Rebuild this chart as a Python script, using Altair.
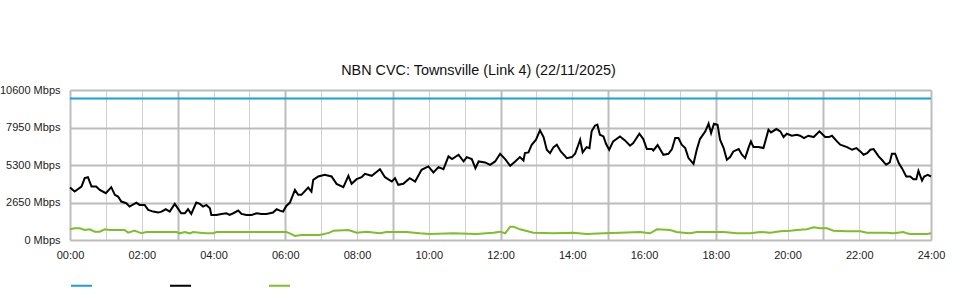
import altair as alt
import pandas as pd

TITLE = "NBN CVC: Townsville (Link 4) (22/11/2025)"
Y_TICKS = [0, 2650, 5300, 7950, 10600]
X_TICKS = list(range(0, 25))
SERIES = ["Capacity", "Traffic", "Other"]
COLORS = ["#1a9ee0", "#000000", "#7cbf2a"]

cap_h = [0, 24]
cap_v = [10000, 10000]

black_h = [0, 0.13, 0.32, 0.41, 0.5, 0.6, 0.73, 0.83, 1.0, 1.15, 1.25, 1.34, 1.43, 1.57, 1.66,
           1.85, 1.94, 2.08, 2.18, 2.32, 2.46, 2.55, 2.67, 2.78, 2.92, 3.1, 3.2, 3.29, 3.38,
           3.52, 3.62, 3.71, 3.8, 3.9, 3.94, 4.08, 4.22, 4.36, 4.45, 4.55, 4.69, 4.78, 4.92,
           5.06, 5.2, 5.34, 5.48, 5.57, 5.66, 5.76, 5.85, 5.94, 6.03, 6.13, 6.27, 6.36, 6.45,
           6.64, 6.73, 6.78, 6.92,
           7.10, 7.29, 7.43, 7.62, 7.76, 7.85, 7.99, 8.13, 8.22, 8.41, 8.50, 8.64, 8.78, 8.97,
           9.06, 9.15, 9.29, 9.47, 9.62, 9.80, 9.99, 10.13, 10.27, 10.41, 10.55, 10.65, 10.83,
           10.97, 11.06, 11.20, 11.30, 11.39, 11.57, 11.71, 11.85, 11.99, 12.13, 12.27, 12.41,
           12.54, 12.64, 12.68, 12.78, 12.87, 12.99, 13.10, 13.20, 13.29, 13.38, 13.48, 13.57,
           13.68, 13.85, 13.99, 14.08, 14.22, 14.29, 14.40, 14.48, 14.54, 14.63, 14.70, 14.77,
           14.87, 14.94, 15.03, 15.14, 15.33, 15.47, 15.61, 15.70, 15.87,
           15.98, 16.08, 16.22, 16.26, 16.38, 16.54, 16.68, 16.78, 16.87, 16.96, 17.05, 17.15,
           17.24, 17.38, 17.47, 17.56, 17.71, 17.80, 17.87, 17.95, 18.05, 18.12, 18.22, 18.31,
           18.40, 18.49, 18.64, 18.73, 18.82, 18.91, 18.98, 19.05, 19.19, 19.33, 19.47, 19.54,
           19.69, 19.80, 19.89, 19.98, 20.12, 20.26, 20.35, 20.46, 20.58, 20.73, 20.89, 21.05,
           21.15, 21.24, 21.38, 21.47, 21.66, 21.80, 21.92, 22.03, 22.12, 22.22, 22.31, 22.40,
           22.54, 22.63, 22.75, 22.85, 22.91, 23.00, 23.10, 23.19, 23.31, 23.42, 23.51, 23.59,
           23.65, 23.75, 23.81, 23.91, 24.0]
black_v = [3708, 3425, 3779, 4370, 4440, 3779, 3779, 3543, 3307, 3732, 3189, 3071, 2716, 2598, 2362,
           2645, 2480, 2480, 2126, 2008, 1937, 2008, 2173, 2008, 2551, 1890, 1890, 2173, 1842,
           2645, 2551, 2362, 2480, 2244, 1772, 1772, 1842, 1890, 1772, 1890, 2079, 1842, 1772,
           1772, 1890, 1842, 1842, 1890, 1937, 2173, 2079, 2008, 2409, 2645, 3543, 3189, 3189,
           3708, 3425, 4252, 4488,
           4606, 4488, 3968, 3732, 4535, 3968, 4299, 4440, 4677, 4535, 4724, 5008, 4440, 4134,
           4370, 3897, 3968, 4370, 4134, 4960, 5196, 4771, 5149, 5008, 5905, 5716, 6023,
           5551, 5858, 5716, 5078, 5551, 5480, 5315, 5551, 6094, 5716, 5244, 5551,
           5858, 5622, 6141, 6188, 6732, 7086, 7747, 7275, 6377, 6141, 6566, 6732,
           6259, 5787, 5858, 6094, 7086, 6188, 6566, 6495, 7677, 8078, 8149, 7440,
           7322, 6803, 6377, 6968, 7322, 7039, 6661, 6850, 7511,
           7133, 6424, 6424, 6330, 6708, 6023, 6094, 6424, 7204, 7204, 6732, 6495,
           5787, 5385, 6377, 7133, 7677, 8220, 7558, 8220, 8149, 7086, 6495, 5669,
           5858, 6259, 6424, 6023, 5787, 6495, 6968, 6566, 6566, 6495, 7795, 7606,
           7842, 7677, 7275, 7511, 7369, 7440, 7369, 7204, 7369, 7275, 7677, 7275,
           7275, 7369, 6968, 6732, 6566, 6377, 6495, 6259, 6023, 6141, 6377, 6424,
           5905, 5669, 5315, 5480, 6094, 6094, 5433, 5078, 4488, 4488, 4299, 4299,
           4889, 4204, 4488, 4606, 4488]

green_h = [0, 0.13, 0.27, 0.41, 0.55, 0.69, 0.83, 0.97, 1.11, 1.52, 1.62, 1.80, 1.99, 2.13,
           2.97, 3.06, 3.20, 3.34, 3.43, 3.62, 3.80, 3.99, 4.08, 6.03, 6.13, 6.27, 6.45, 6.96,
           7.24, 7.34, 7.76, 7.99, 8.27, 8.64, 8.82, 9.38, 9.75, 10.03, 10.68, 11.33, 11.80,
           11.99, 12.13, 12.27, 12.36, 12.54, 12.92, 13.47, 14.03, 14.40, 14.87, 15.33, 15.89,
           16.17, 16.36, 16.73, 16.91, 17.10, 17.29, 17.47, 18.22, 18.59, 18.96, 19.24, 19.52,
           19.80, 20.08, 20.26, 20.54, 20.73, 20.91, 21.10, 21.28, 21.66, 22.03, 22.22, 22.77,
           22.96, 23.23, 23.33, 23.42, 23.61, 23.89, 24.0]
green_v = [756, 827, 827, 709, 756, 590, 590, 756, 709, 709, 520, 661, 472, 567,
           567, 472, 567, 472, 567, 520, 472, 472, 567, 567, 472, 283, 354, 354,
           520, 661, 709, 520, 590, 472, 567, 567, 472, 425, 472, 425, 520,
           590, 472, 945, 945, 756, 520, 472, 520, 425, 472, 520, 567,
           472, 756, 709, 567, 520, 472, 567, 567, 472, 472, 567, 520,
           614, 661, 709, 756, 898, 827, 827, 661, 614, 614, 520, 520,
           472, 567, 472, 425, 425, 425, 472]

rows = []
for h, v in zip(cap_h, cap_v):
    rows.append({"series": SERIES[0], "hour": h, "value": v, "order": 0})
for h, v in zip(black_h, black_v):
    rows.append({"series": SERIES[1], "hour": h, "value": v, "order": 1})
for h, v in zip(green_h, green_v):
    rows.append({"series": SERIES[2], "hour": h, "value": v, "order": 2})
df = pd.DataFrame(rows)

FONT = "Liberation Sans"

x_axis = alt.Axis(
    values=X_TICKS,
    labelExpr="datum.value % 2 == 0 ? ((datum.value < 10 ? '0' : '') + datum.value + ':00') : ''",
    ticks=False, domain=False, title=None,
    labelPadding=9, labelFontSize=11, labelColor="#222222", labelFont=FONT,
    labelFlush=False,
    gridColor=alt.condition("datum.value % 3 == 0", alt.value("#bdbdbd"), alt.value("#d0d0d0")),
    gridWidth=alt.condition("datum.value % 3 == 0", alt.value(2), alt.value(1)),
)
y_axis = alt.Axis(
    values=Y_TICKS,
    labelExpr="datum.value + ' Mbps'",
    ticks=False, domain=False, title=None,
    labelPadding=10, labelFontSize=11, labelColor="#222222", labelFont=FONT,
    gridColor="#bcbcbc", gridWidth=2,
)

chart = alt.Chart(df).mark_line(strokeWidth=2).encode(
    x=alt.X("hour:Q", scale=alt.Scale(domain=[0, 24], nice=False, zero=False), axis=x_axis),
    y=alt.Y("value:Q", scale=alt.Scale(domain=[0, 10600], nice=False), axis=y_axis),
    color=alt.Color(
        "series:N",
        scale=alt.Scale(domain=SERIES, range=COLORS),
        sort=SERIES,
        legend=alt.Legend(
            orient="none", legendX=0, legendY=184, direction="horizontal", title=None,
            symbolType="stroke", symbolSize=441, symbolStrokeWidth=2,
            labelExpr="''", labelOffset=0, columnPadding=70, padding=0,
        ),
    ),
    detail="series:N",
    order="order:Q",
).properties(
    width=861, height=150,
    title=alt.TitleParams(TITLE, fontSize=14.4, font=FONT, fontWeight="normal",
                          color="#111111", offset=6, anchor="middle", dx=-22),
    autosize=alt.AutoSizeParams(type="none"),
    padding={"left": 70, "top": 90, "right": 29, "bottom": 60},
).configure_view(stroke="#c8c8c8", strokeWidth=1).configure(background="white")

chart.save("out.html", embed_options={"renderer": "svg", "actions": False})
